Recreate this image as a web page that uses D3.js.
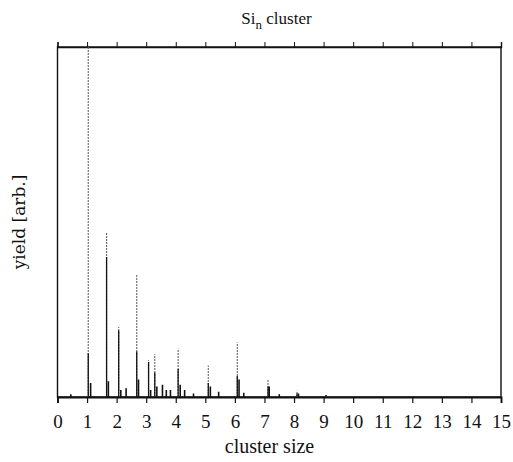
<!DOCTYPE html>
<html>
<head>
<meta charset="utf-8">
<script src="https://cdn.jsdelivr.net/npm/d3@7"></script>
<style>
  body { margin: 0; background: #fff; }
  text { font-family: "Liberation Serif", "DejaVu Serif", serif; fill: #111; }
</style>
</head>
<body>
<div id="chart"></div>
<script>
// main peaks: cluster size position, height (% of frame), dark core height
var peakPos    = [1.04, 1.66, 2.07, 2.68, 3.08, 3.29, 4.08, 5.10, 6.08, 7.12, 8.10, 9.08];
var peakHeight = [100,  47,   20,   35,   10.5, 12.2, 13.8, 9.0,  15.6, 4.9,  1.8,  0.6];
var peakCore   = [12.5, 40,   19,   13,   10,   7,    8,    4,    6,    3,    1,    0.6];

// small satellite peaks near the baseline
var satPos    = [0.45, 1.12, 1.72, 2.14, 2.32, 2.74, 3.15, 3.36, 3.55, 3.68, 3.82, 4.15, 4.3, 4.6, 5.17, 5.45, 6.14, 6.3, 7.16, 7.5, 8.15];
var satHeight = [0.8,  4,    4.5,  2,    2.5,  5,    2,    3,    3.5,  2,    2,    3.5,  2,   1,   3,    1.5,  5,    1.2, 3,    0.8, 1];

var xTicks = d3.range(0, 16);

var margin = {top: 47, right: 12, bottom: 65, left: 57.5},
    width = 513 - margin.left - margin.right,
    height = 462 - margin.top - margin.bottom;

var svg = d3.select("#chart")
  .append("svg")
    .attr("width", 513)
    .attr("height", 462)
  .append("g")
    .attr("transform", "translate(" + margin.left + "," + margin.top + ")");

var x = d3.scaleLinear().domain([0, 15]).range([0, width]);
var y = d3.scaleLinear().domain([0, 100]).range([height, 0]);

// frame
svg.append("rect")
  .attr("x", 0).attr("y", 0)
  .attr("width", width).attr("height", height)
  .attr("fill", "none")
  .attr("stroke", "#111")
  .attr("stroke-width", 1.4);

// bottom axis
var xAxis = svg.append("g")
  .attr("transform", "translate(0," + height + ")")
  .call(d3.axisBottom(x).tickValues(xTicks).tickSize(6).tickPadding(12).tickFormat(d3.format("d")));
xAxis.select(".domain").attr("stroke", "#111").attr("stroke-width", 1.8);
xAxis.selectAll(".tick line").attr("stroke", "#111").attr("stroke-width", 1.2);
xAxis.selectAll("text")
  .style("font-family", "'Liberation Serif', serif")
  .style("font-size", "19px")
  .attr("fill", "#111");

// top axis (ticks only)
var xTop = svg.append("g")
  .call(d3.axisTop(x).tickValues(xTicks).tickSize(5).tickFormat(""));
xTop.select(".domain").attr("stroke", "#111").attr("stroke-width", 1.4);
xTop.selectAll(".tick line").attr("stroke", "#111").attr("stroke-width", 1);

// peaks: dotted grey upper part
svg.selectAll("line.peak")
  .data(peakPos)
  .enter()
  .append("line")
    .attr("class", "peak")
    .attr("x1", function(d) { return x(d); })
    .attr("x2", function(d) { return x(d); })
    .attr("y1", y(0))
    .attr("y2", function(d, i) { return y(peakHeight[i]); })
    .attr("stroke", "#666")
    .attr("stroke-width", 1.1)
    .attr("stroke-dasharray", "2,1");

// peaks: solid dark core
svg.selectAll("line.core")
  .data(peakPos)
  .enter()
  .append("line")
    .attr("class", "core")
    .attr("x1", function(d) { return x(d); })
    .attr("x2", function(d) { return x(d); })
    .attr("y1", y(0))
    .attr("y2", function(d, i) { return y(peakCore[i]); })
    .attr("stroke", "#111")
    .attr("stroke-width", 1.3);

// satellites
svg.selectAll("line.sat")
  .data(satPos)
  .enter()
  .append("line")
    .attr("class", "sat")
    .attr("x1", function(d) { return x(d); })
    .attr("x2", function(d) { return x(d); })
    .attr("y1", y(0))
    .attr("y2", function(d, i) { return y(satHeight[i]); })
    .attr("stroke", "#111")
    .attr("stroke-width", 1.6);

// titles
var title = svg.append("text")
  .attr("x", 219)
  .attr("y", -23)
  .attr("text-anchor", "middle")
  .style("font-size", "17px");
title.append("tspan").text("Si");
title.append("tspan").attr("dy", 5).style("font-size", "13px").text("n");
title.append("tspan").attr("dy", -5).text(" cluster");

svg.append("text")
  .attr("x", 212)
  .attr("y", height + 56)
  .attr("text-anchor", "middle")
  .style("font-size", "20px")
  .text("cluster size");

svg.append("text")
  .attr("transform", "translate(" + (-33) + "," + 175 + ") rotate(-90)")
  .attr("text-anchor", "middle")
  .style("font-size", "17px")
  .style("font-family", "'DejaVu Serif', serif")
  .text("yield [arb.]");
</script>
</body>
</html>
